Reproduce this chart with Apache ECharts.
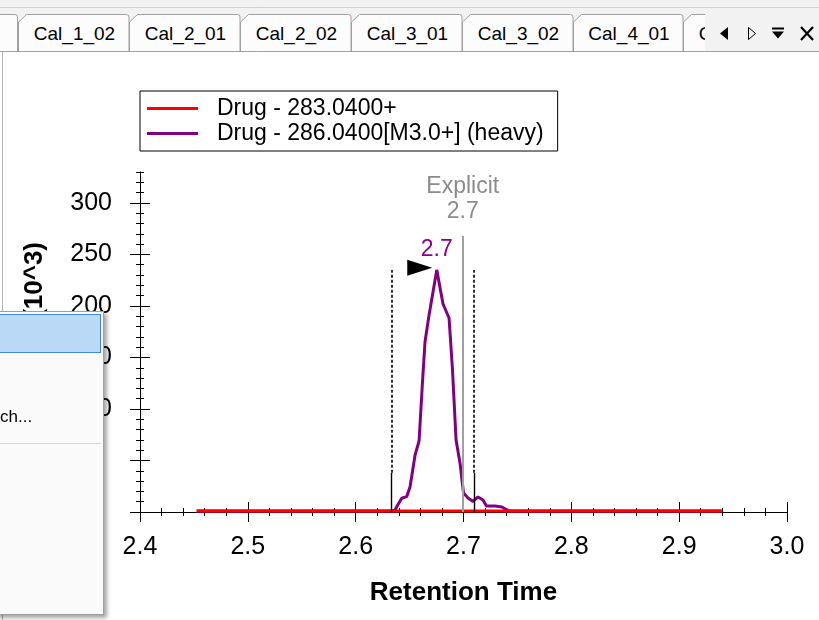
<!DOCTYPE html>
<html><head><meta charset="utf-8">
<script src="https://cdn.jsdelivr.net/npm/echarts@6/dist/echarts.min.js"></script>
<style>
html,body{margin:0;padding:0;background:#fff;width:819px;height:620px;overflow:hidden;font-family:"Liberation Sans",Arial,sans-serif;}
#chart{position:absolute;left:0;top:0;width:819px;height:620px;}
#tabs{position:absolute;left:0;top:0;width:819px;height:52px;}
#leftBorder{position:absolute;left:2px;top:52px;width:1px;height:568px;background:#b4b4b4;}
#menu{position:absolute;left:-200px;top:311px;width:302px;height:302px;background:#fafafa;border:1px solid #a0a0a0;box-shadow:3px 3px 4px rgba(0,0,0,0.35);}
#menu .hl{position:absolute;left:1px;top:2px;width:297px;height:37px;background:#b9d9f6;border:1px solid #3c8de0;}
#menu .item{position:absolute;left:199px;top:95px;font-size:17px;line-height:20px;color:#000;white-space:nowrap;}
#menu .sep{position:absolute;left:0;top:131px;width:300px;height:1px;background:#d7d7d7;}
</style></head><body>
<div id="chart"></div>
<svg id="tabs" xmlns="http://www.w3.org/2000/svg" width="819" height="52"></svg>
<div id="leftBorder"></div>
<div id="menu"><div class="hl"></div><div class="item">ch...</div><div class="sep"></div></div>
<script>
// ---- data ----
const heavyName = 'Drug - 286.0400[M3.0+] (heavy)';
const lightName = 'Drug - 283.0400+';
const heavyTimes = [2.4526, 2.5000, 2.5500, 2.6000, 2.6342, 2.6365, 2.6390, 2.6427, 2.6473, 2.6504, 2.6551, 2.6588, 2.6618, 2.6643, 2.6676, 2.6752, 2.6810, 2.6866, 2.6898, 2.6931, 2.6969, 2.7000, 2.7042, 2.7088, 2.7135, 2.7181, 2.7213, 2.7292, 2.7357, 2.7403, 2.7431, 2.8000, 2.9000, 2.9394];
const heavyIntensity = [1, 1, 1, 1, 1, 1.9, 6.8, 13.3, 14.9, 24.3, 55.3, 68.9, 123.3, 165.0, 188.3, 235.0, 201.9, 188.3, 137.9, 69.9, 46.6, 18.4, 13.6, 10.2, 14.6, 11.7, 5.8, 5.8, 4.9, 1.9, 1, 1, 1, 1];
const lightTimes = [2.4526, 2.5500, 2.6500, 2.7500, 2.8500, 2.9394];
const lightIntensity = [1, 1, 1, 1, 1, 1];
const peakApex = [2.6752, 235];
const peakLabel = '2.7';
const explicitTime = 2.6993;
const explicitTop = 268;
const explicitLabel = 'Explicit\n2.7';
const boundaryTimes = [2.6334, 2.7097];
const boundaryTop = 235;
const boundarySolidTop = 38;
const flagPos = [2.6594, 237];
const yMajorTicks = [0, 50, 100, 150, 200, 250, 300];
const yTickLabels = [100, 150, 200, 250, 300];
const tabNames = ['Cal_1_02', 'Cal_2_01', 'Cal_2_02', 'Cal_3_01', 'Cal_3_02', 'Cal_4_01', 'Cal_4_02'];
const tabEdges = [18, 129, 240, 351, 462, 573, 683, 794];

// ---- tab strip ----
(function () {
  const svg = document.getElementById('tabs');
  let s = '<defs><clipPath id="tc"><rect x="0" y="0" width="705" height="52"/></clipPath></defs>';
  s += '<rect x="0" y="0" width="819" height="52" fill="#f2f2f2"/>';
  s += '<line x1="0" y1="7.5" x2="819" y2="7.5" stroke="#d2d2d2"/>';
  s += '<g clip-path="url(#tc)">';
  const tabPath = (x0, x1) => `M${x0},52 L${x0},22 L${x0 + 8},14.5 L${x1 - 3},14.5 Q${x1 - 0.5},14.5 ${x1 - 0.5},17 L${x1 - 0.5},52`;
  s += `<path d="${tabPath(-90, 18)}" fill="#fcfcfc" stroke="#a0a0a0"/>`;
  for (let i = 0; i < tabNames.length; i++) {
    const x0 = tabEdges[i] + 0.5, x1 = tabEdges[i + 1] + 0.5;
    s += `<path d="${tabPath(x0, x1)}" fill="#fcfcfc" stroke="#a0a0a0"/>`;
    s += `<text x="${(x0 + x1) / 2 + 0.5}" y="40" font-family="Liberation Sans, Arial, sans-serif" font-size="19" text-anchor="middle" fill="#000">${tabNames[i]}</text>`;
  }
  s += '</g>';
  s += '<line x1="0" y1="51.5" x2="819" y2="51.5" stroke="#a0a0a0"/>';
  s += '<polygon points="728,27 728,40 720,33.5" fill="#000"/>';
  s += '<polygon points="748.5,27.5 748.5,39.5 755.5,33.5" fill="none" stroke="#000"/>';
  s += '<line x1="772" y1="28.5" x2="784" y2="28.5" stroke="#000" stroke-width="2"/>';
  s += '<polygon points="772,31.5 784,31.5 778,38.5" fill="#000"/>';
  s += '<line x1="801" y1="27" x2="813" y2="40" stroke="#000" stroke-width="2.2"/>';
  s += '<line x1="813" y1="27" x2="801" y2="40" stroke="#000" stroke-width="2.2"/>';
  svg.innerHTML = s;
})();

// ---- chart ----
const FONT = '"Liberation Sans", Arial, sans-serif';
const zip = (a, b) => a.map((v, i) => [v, b[i]]);
const black = { color: '#000', width: 1 };

function xAxisDef(inside, withLabels) {
  return {
    type: 'value', min: 2.4, max: 3.0, interval: 0.1, position: 'bottom',
    axisLine: { show: withLabels, onZero: false, lineStyle: black },
    axisTick: { show: true, inside: inside, length: 10, lineStyle: black },
    minorTick: { show: true, splitNumber: 5, length: 4, lineStyle: black },
    splitLine: { show: false }, minorSplitLine: { show: false },
    axisLabel: { show: withLabels, formatter: v => v.toFixed(1), fontSize: 25, color: '#000', margin: 23, fontFamily: FONT },
    name: withLabels ? 'Retention Time' : '',
    nameLocation: 'middle', nameGap: 68,
    nameTextStyle: { fontSize: 26, fontWeight: 'bold', color: '#000', fontFamily: FONT }
  };
}
function yMajorDef(inside, withLabels) {
  return {
    type: 'value', min: 0, max: 330, interval: 50, position: 'left',
    axisLine: { show: withLabels, onZero: false, lineStyle: black },
    axisTick: { show: true, inside: inside, length: 10, lineStyle: black, customValues: yMajorTicks },
    splitLine: { show: false },
    axisLabel: { show: withLabels, customValues: yTickLabels, formatter: v => (yTickLabels.indexOf(v) >= 0 ? String(v) : ''), fontSize: 25, color: '#000', margin: 28, fontFamily: FONT },
    name: withLabels ? 'Intensity (10^3)' : '',
    nameLocation: 'middle', nameRotate: 90, nameGap: 92,
    nameTextStyle: { fontSize: 26, fontWeight: 'bold', color: '#000', fontFamily: FONT, padding: [0, 0, 0, 10] }
  };
}
function yMinorDef(inside) {
  return {
    type: 'value', min: 0, max: 330, interval: 10, position: 'left',
    axisLine: { show: false, onZero: false },
    axisTick: { show: true, inside: inside, length: 4, lineStyle: black },
    splitLine: { show: false },
    axisLabel: { show: false }
  };
}

const chart = echarts.init(document.getElementById('chart'), null, { renderer: 'canvas' });
chart.setOption({
  animation: false,
  grid: { left: 140, right: 32, top: 172, bottom: 108, outerBoundsMode: 'none' },
  legend: {
    left: 140, top: 91, orient: 'vertical',
    padding: [5, 14, 5, 7], itemGap: 0, itemWidth: 51, itemHeight: 3,
    borderColor: '#000', borderWidth: 1, borderRadius: 0, backgroundColor: '#fff',
    selectedMode: false,
    itemStyle: { borderWidth: 0 },
    textStyle: { fontSize: 23, color: '#000', fontFamily: FONT, lineHeight: 25, padding: [0, 0, 0, 14] },
    data: [{ name: lightName, icon: 'rect' }, { name: heavyName, icon: 'rect' }]
  },
  xAxis: [xAxisDef(false, true), xAxisDef(true, false)],
  yAxis: [yMajorDef(false, true), yMajorDef(true, false), yMinorDef(false), yMinorDef(true)],
  series: [
    {
      name: heavyName, type: 'line', xAxisIndex: 0, yAxisIndex: 0,
      data: zip(heavyTimes, heavyIntensity),
      showSymbol: false, symbol: 'none',
      color: '#800080', lineStyle: { color: '#800080', width: 3 },
      z: 2,
      markLine: {
        silent: true, symbol: ['none', 'none'], animation: false,
        label: { show: false },
        data: [
          [{ coord: [explicitTime, 0], lineStyle: { color: '#a0a0a0', width: 2, type: 'solid' },
             label: { show: true, position: 'end', distance: 12, formatter: explicitLabel, color: '#8c8c8c', fontSize: 23, lineHeight: 25, fontFamily: FONT } },
           { coord: [explicitTime, explicitTop] }],
          [{ coord: [boundaryTimes[0], boundarySolidTop], lineStyle: { color: '#000', width: 1.6, type: [3, 2] } }, { coord: [boundaryTimes[0], boundaryTop] }],
          [{ coord: [boundaryTimes[1], boundarySolidTop], lineStyle: { color: '#000', width: 1.6, type: [3, 2] } }, { coord: [boundaryTimes[1], boundaryTop] }],
          [{ coord: [boundaryTimes[0], 0], lineStyle: { color: '#000', width: 1.4, type: 'solid' } }, { coord: [boundaryTimes[0], boundarySolidTop] }],
          [{ coord: [boundaryTimes[1], 0], lineStyle: { color: '#000', width: 1.4, type: 'solid' } }, { coord: [boundaryTimes[1], boundarySolidTop] }]
        ]
      },
      markPoint: {
        silent: true, animation: false,
        data: [
          { coord: peakApex, symbol: 'circle', symbolSize: 1, itemStyle: { color: 'rgba(0,0,0,0)' },
            label: { show: true, position: 'top', distance: 8, formatter: peakLabel, color: '#8b008b', fontSize: 23, fontFamily: FONT } },
          { coord: flagPos, symbol: 'path://M0,0 L0,16 L25,8 Z', symbolSize: [25, 16], itemStyle: { color: '#000' }, label: { show: false } }
        ]
      }
    },
    {
      name: lightName, type: 'line', xAxisIndex: 0, yAxisIndex: 0,
      data: zip(lightTimes, lightIntensity),
      showSymbol: false, symbol: 'none',
      color: '#ff0000', lineStyle: { color: '#ff0000', width: 3 },
      z: 3
    }
  ]
});
</script>
</body></html>
